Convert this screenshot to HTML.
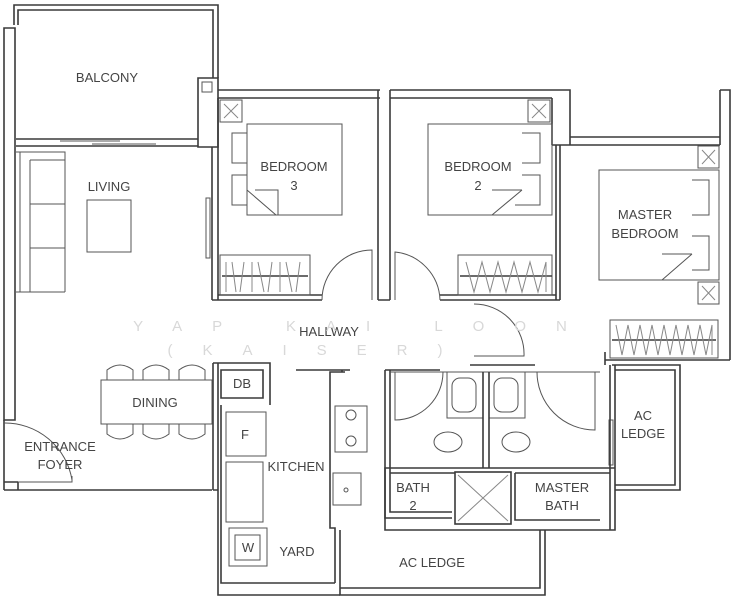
<!DOCTYPE html>
<html><head><style>
html,body{margin:0;padding:0;background:#fff;}
svg{display:block;}
text{font-family:"Liberation Sans",sans-serif;fill:#444;font-size:13px;text-anchor:middle;}
.w{fill:none;stroke:#3a3a3a;stroke-width:1.6;}
.t{fill:none;stroke:#555;stroke-width:1;}
.g{fill:none;stroke:#888;stroke-width:1;}
.wm{fill:#d8d8d8;font-size:15px;letter-spacing:0;}
</style></head><body>
<svg width="738" height="600" viewBox="0 0 738 600" xmlns="http://www.w3.org/2000/svg">
<!-- balcony outer -->
<path class="w" d="M14 25 V5 H218 V78 M18 25 V10 H213 V78"/>
<path class="w" d="M4 28 H15 V420 H4 Z"/>
<!-- balcony/living divider -->
<path class="w" d="M16 139 H198 M16 146 H198"/>
<path class="t" d="M60 141 H120 M92 144 H156"/>
<!-- column -->
<path class="w" d="M198 78 H218 V147 H198 Z"/>
<rect class="t" x="202" y="82" width="10" height="10"/>
<!-- living right wall -->
<path class="w" d="M212 147 V300 M218 98 V300"/>
<rect class="t" x="206" y="198" width="4" height="60"/>
<!-- sofa -->
<path class="t" d="M16 152 H65 V292 M20 152 V292 M30 160 V292 M30 160 H65 M30 204 H65 M30 248 H65 M16 292 H65"/>
<rect class="t" x="87" y="200" width="44" height="52"/>
<!-- bedroom tops -->
<path class="w" d="M218 90 H380 M218 98 H380"/>
<path class="w" d="M378 90 V300 M390 90 V300 M378 300 H390"/>
<path class="w" d="M390 90 H570 V145 M390 98 H552"/>
<path class="w" d="M552 98 V145 M552 145 H720 M570 137 H720"/>
<path class="w" d="M720 90 H730 V360 M720 90 V145"/>
<!-- bed3 -->
<rect class="t" x="220" y="100" width="22" height="22"/>
<path class="g" d="M224 104 L238 118 M238 104 L224 118"/>
<rect class="t" x="247" y="124" width="95" height="91"/>
<path class="t" d="M232 133 H247 V163 H232 Z M232 175 H247 V205 H232 Z M247 190 L276 215 M255 190 H278 V215"/>
<!-- bed2 -->
<rect class="t" x="528" y="100" width="22" height="22"/>
<path class="g" d="M532 104 L546 118 M546 104 L532 118"/>
<rect class="t" x="428" y="124" width="124" height="91"/>
<path class="t" d="M522 133 H540 V163 H522 M522 175 H540 V205 H515 M522 190 L492 215 M492 190 H522"/>
<!-- master bed -->
<rect class="t" x="698" y="146" width="21" height="22"/>
<path class="g" d="M702 150 L715 164 M715 150 L702 164"/>
<rect class="t" x="599" y="170" width="120" height="110"/>
<path class="t" d="M692 180 H709 V215 H692 M692 236 H709 V270 H692 M692 254 L662 280 M662 254 H692"/>
<rect class="t" x="698" y="282" width="21" height="22"/>
<path class="g" d="M702 286 L715 300 M715 286 L702 300"/>
<!-- bottom of bedrooms -->
<path class="w" d="M212 300 H322 M218 295 H322 M440 300 H560 M440 295 H556"/>
<path class="w" d="M556 145 V300 M560 145 V300"/>
<!-- wardrobes -->
<rect class="t" x="220" y="255" width="90" height="40"/>
<path class="w" d="M222 276 H308"/>
<path class="g" d="M226 262 V292 M232 262 L236 292 M244 262 L240 292 M252 262 V292 M258 262 L264 292 M272 262 L268 292 M280 262 V292 M286 262 L292 292 M300 262 L296 292"/>
<rect class="t" x="458" y="255" width="94" height="40"/>
<path class="w" d="M460 276 H552"/>
<path class="g" d="M466 262 L474 292 L482 262 L490 292 L498 262 L506 292 L514 262 L522 292 L530 262 L538 292 L546 262 V292"/>
<!-- doors -->
<path class="t" d="M322 300 A50 50 0 0 1 372 250 V300 M440 300 A50 50 0 0 0 395 252 V300"/>
<path class="t" d="M474 304 A50 50 0 0 1 524 356 H474"/>
<!-- master lower -->
<path class="w" d="M605 360 H730 M605 352 V365"/>
<rect class="t" x="610" y="320" width="108" height="38"/>
<path class="w" d="M612 340 H716"/>
<path class="g" d="M616 325 L622 355 L628 325 L634 355 L640 325 L646 355 L652 325 L658 355 L664 325 L670 355 L676 325 L682 355 L688 325 L694 355 L700 325 L706 355 L712 325 V355"/>
<!-- AC ledge right -->
<path class="w" d="M615 370 H675 V485 H615 M612 365 H680 V490 H615"/>
<rect class="t" x="609" y="420" width="4" height="45"/>
<!-- living bottom -->
<path class="w" d="M4 490 H212 M4 482 H18 M18 482 V490 M4 420 V490 M213 363 V490"/>
<path class="t" d="M18 482 H72 V476 M4 423 A68 68 0 0 1 72 480"/>
<!-- dining -->
<rect class="t" x="101" y="380" width="111" height="44"/>
<path class="t" d="M107 380 V370 Q120 360 133 370 V380 M143 380 V370 Q156 360 169 370 V380 M179 380 V370 Q192 360 205 370 V380 M107 424 V434 Q120 444 133 434 V424 M143 424 V434 Q156 444 169 434 V424 M179 424 V434 Q192 444 205 434 V424"/>
<!-- kitchen -->
<path class="w" d="M213 363 H270 V405 M221 370 H263 V398 H221 Z M213 490 H218 V595 H340 M221 405 V583 H335 M218 363 V595"/>
<rect class="t" x="226" y="412" width="40" height="44"/>
<rect class="t" x="226" y="462" width="37" height="60"/>
<rect class="t" x="229" y="528" width="38" height="38"/>
<rect class="t" x="235" y="535" width="25" height="25"/>
<path class="w" d="M296 370 H350 M323 370 H342 V372 H330 V528 H335 V583 M342 372 H345"/>
<rect class="t" x="335" y="406" width="32" height="46" fill="none"/>
<circle class="t" cx="351" cy="415" r="5"/><circle class="t" cx="351" cy="441" r="5"/>
<rect class="t" x="333" y="473" width="28" height="32"/>
<circle class="t" cx="346" cy="490" r="2"/>
<!-- baths -->
<path class="w" d="M385 370 V518 H452 M390 370 V512 H452 M385 370 H440 M470 365 H535"/>
<path class="t" d="M390 372 H600"/>
<path class="t" d="M395 372 V420 A48 48 0 0 0 443 372"/>
<path class="t" d="M595 372 V430 A58 58 0 0 1 537 372"/>
<rect class="t" x="447" y="372" width="36" height="46"/>
<rect class="t" x="452" y="378" width="24" height="34" rx="8"/>
<rect class="t" x="489" y="372" width="36" height="46"/>
<rect class="t" x="494" y="378" width="24" height="34" rx="8"/>
<path class="w" d="M483 372 V468 M489 372 V468"/>
<ellipse class="t" cx="448" cy="442" rx="14" ry="10"/>
<ellipse class="t" cx="516" cy="442" rx="14" ry="10"/>
<path class="w" d="M385 468 H615 V530 H385 Z M390 473 H455 M515 473 H610 M610 365 V530 M615 365 V530"/>
<rect class="w" x="455" y="472" width="56" height="52"/>
<path class="g" d="M458 475 L508 521 M508 475 L458 521"/>
<path class="w" d="M515 473 V520 H600"/>
<!-- AC ledge bottom -->
<path class="w" d="M340 530 V595 H545 V530 M340 588 H540 V530"/>
<!-- labels -->
<text x="107" y="82">BALCONY</text>
<text x="109" y="191">LIVING</text>
<text x="294" y="171">BEDROOM</text>
<text x="294" y="190">3</text>
<text x="478" y="171">BEDROOM</text>
<text x="478" y="190">2</text>
<text x="645" y="219">MASTER</text>
<text x="645" y="238">BEDROOM</text>
<text x="329" y="336">HALLWAY</text>
<text x="155" y="407">DINING</text>
<text x="242" y="388">DB</text>
<text x="245" y="439">F</text>
<text x="296" y="471">KITCHEN</text>
<text x="248" y="552">W</text>
<text x="297" y="556">YARD</text>
<text x="60" y="451">ENTRANCE</text>
<text x="60" y="469">FOYER</text>
<text x="413" y="492">BATH</text>
<text x="413" y="510">2</text>
<text x="562" y="492">MASTER</text>
<text x="562" y="510">BATH</text>
<text x="643" y="420">AC</text>
<text x="643" y="438">LEDGE</text>
<text x="432" y="567">AC LEDGE</text>
<text class="wm" x="365" y="331" style="letter-spacing:30px">YAP KAI LOON</text>
<text class="wm" x="320" y="355" style="letter-spacing:30px">(KAISER)</text>
</svg>
</body></html>
